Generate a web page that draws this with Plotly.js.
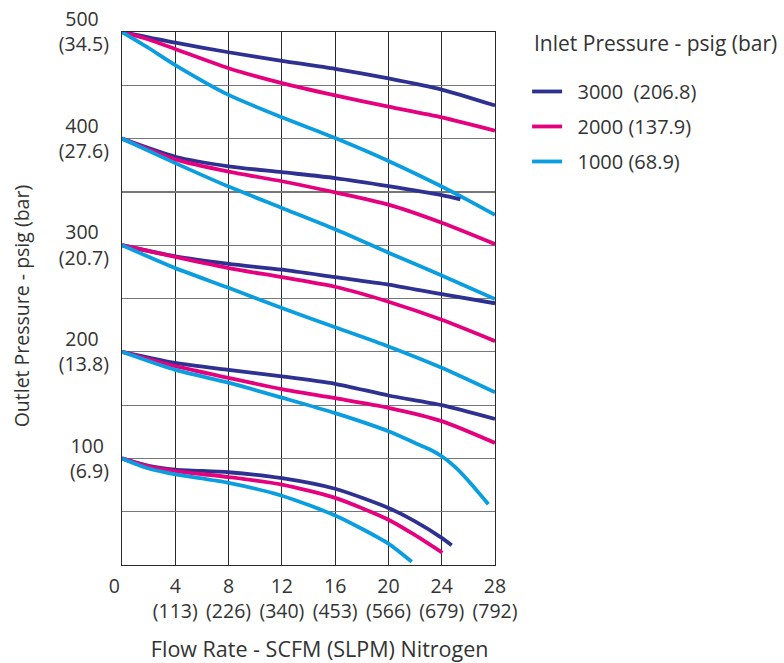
<!DOCTYPE html>
<html>
<head>
<meta charset="utf-8">
<script src="https://cdn.plot.ly/plotly-3.0.1.min.js"></script>
<style>html,body{margin:0;padding:0;background:#fff;}#chart{width:784px;height:663px;}</style>
</head>
<body>
<div id="chart"></div>
<script>
// Inlet pressure series names
var seriesNames = ["3000\u00A0\u00A0(206.8)", "2000 (137.9)", "1000 (68.9)"];
var seriesColors = ["#2e3192", "#e5007d", "#0a9ee0"];

// Outlet set 500 psig
var x500_3000 = [0, 4, 8, 12, 16, 20, 24, 28];
var y500_3000 = [500, 490, 481, 473, 465.5, 456.5, 446, 431];
var x500_2000 = [0, 2, 4, 8, 12, 16, 20, 24, 28];
var y500_2000 = [500, 493, 484, 466, 452, 440.5, 430, 420, 407.5];
var x500_1000 = [0, 2, 4, 8, 12, 16, 20, 24, 26, 28];
var y500_1000 = [500, 485, 469, 441, 420, 400.5, 379, 355, 342, 328.5];

// Outlet set 400 psig
var x400_3000 = [0, 4, 8, 12, 16, 20, 24, 25.4];
var y400_3000 = [400, 383, 374, 368.5, 363, 355.5, 347, 343];
var x400_2000 = [0, 4, 8, 12, 16, 20, 24, 28];
var y400_2000 = [400, 380.5, 369, 360, 349.5, 338, 321, 301];
var x400_1000 = [0, 4, 8, 12, 16, 20, 24, 28];
var y400_1000 = [400, 377, 355, 335, 315, 293, 271.5, 249.5];

// Outlet set 300 psig
var x300_3000 = [0, 4, 8, 12, 16, 20, 24, 28];
var y300_3000 = [300, 289.5, 282.5, 277, 270, 263, 254, 245.5];
var x300_2000 = [0, 4, 8, 12, 16, 20, 24, 28];
var y300_2000 = [300, 289, 278.5, 270, 261, 247, 230, 210];
var x300_1000 = [0, 4, 8, 12, 16, 20, 24, 28];
var y300_1000 = [300, 278.5, 260, 241, 223, 205, 185, 162];

// Outlet set 200 psig
var x200_3000 = [0, 4, 8, 12, 16, 20, 24, 28];
var y200_3000 = [200, 189.5, 183, 177, 170, 159, 150, 137];
var x200_2000 = [0, 4, 8, 12, 16, 20, 24, 28];
var y200_2000 = [200, 186.5, 175.5, 165, 156.5, 147.5, 135, 114.5];
var x200_1000 = [0, 4, 8, 12, 16, 20, 22, 23, 24, 25, 26, 27.5];
var y200_1000 = [200, 183, 171, 157, 142.5, 125.5, 114.5, 109, 102, 92, 79, 57];

// Outlet set 100 psig
var x100_3000 = [0, 2, 4, 8, 12, 16, 20, 22, 24, 24.75];
var y100_3000 = [100, 93, 89.5, 87, 81.5, 71.5, 53.5, 41, 25.5, 18.5];
var x100_2000 = [0, 2, 4, 8, 12, 16, 20, 22, 24.05];
var y100_2000 = [100, 92.5, 88, 82.5, 75.5, 63, 42.5, 28, 11.5];
var x100_1000 = [0, 2, 4, 8, 12, 16, 18, 20, 21.75];
var y100_1000 = [100, 90.5, 85, 77, 65, 46.5, 34, 20, 3];

// Tick labels
var xTickVals = [0, 4, 8, 12, 16, 20, 24, 28];
var xTickText = ["0\u00A0\u00A0\u00A0", "4<br>(113)", "8<br>(226)", "12<br>(340)", "16<br>(453)", "20<br>(566)", "24<br>(679)", "28<br>(792)"];
var yTickVals = [0, 50, 100, 150, 200, 250, 300, 350, 400, 450, 500];
var yTickText = ["", "", "100\u00A0<br>(6.9)", "", "200\u00A0\u00A0<br>(13.8)", "", "300\u00A0\u00A0<br>(20.7)", "", "400\u00A0\u00A0<br>(27.6)", "", "500\u00A0\u00A0<br>(34.5)"];

var curves = [
  [x500_3000, y500_3000, 0], [x500_2000, y500_2000, 1], [x500_1000, y500_1000, 2],
  [x400_3000, y400_3000, 0], [x400_2000, y400_2000, 1], [x400_1000, y400_1000, 2],
  [x300_3000, y300_3000, 0], [x300_2000, y300_2000, 1], [x300_1000, y300_1000, 2],
  [x200_3000, y200_3000, 0], [x200_2000, y200_2000, 1], [x200_1000, y200_1000, 2],
  [x100_3000, y100_3000, 0], [x100_2000, y100_2000, 1], [x100_1000, y100_1000, 2]
];

var shown = [false, false, false];
var traces = curves.map(function (c) {
  var s = c[2];
  var t = {
    x: c[0], y: c[1], type: "scatter", mode: "lines",
    line: {color: seriesColors[s], width: 3.8, shape: "spline", smoothing: 0.7},
    name: "\u00A0\u00A0" + seriesNames[s],
    legendgroup: "g" + s,
    showlegend: !shown[s],
    hoverinfo: "skip"
  };
  shown[s] = true;
  return t;
});

var font = "Open Sans, Noto Sans, sans-serif";
var layout = {
  width: 784, height: 663,
  margin: {l: 122, r: 289, t: 32, b: 98, pad: 0},
  paper_bgcolor: "#fff", plot_bgcolor: "#fff",
  font: {family: font, size: 20, color: "#333"},
  showlegend: true,
  legend: {
    x: 1.086, xanchor: "left", y: 0.925, yanchor: "top",
    font: {family: font, size: 20, color: "#333"},
    tracegroupgap: 6, itemwidth: 30, bgcolor: "rgba(0,0,0,0)"
  },
  xaxis: {
    range: [0, 28], tickvals: xTickVals, ticktext: xTickText,
    showgrid: true, gridcolor: "#2a2a2a", gridwidth: 1.2,
    showline: true, linecolor: "#2a2a2a", linewidth: 1.2, mirror: true,
    zeroline: false, ticks: "", ticklabelstandoff: 3,
    tickfont: {family: font, size: 19.5, color: "#333"},
    title: {text: "\u200B\u00A0\u00A0\u00A0\u00A0Flow Rate - SCFM (SLPM) Nitrogen", font: {family: font, size: 21.5, color: "#333"}, standoff: 28}
  },
  yaxis: {
    range: [0, 500], tickvals: yTickVals, ticktext: yTickText,
    showgrid: true, gridcolor: "#777", gridwidth: 1.2,
    showline: true, linecolor: "#2a2a2a", linewidth: 1.2, mirror: true,
    zeroline: false, ticks: "", ticklabelstandoff: 8,
    tickfont: {family: font, size: 19.5, color: "#333"},
    title: {text: "Outlet Pressure - psig (bar)\u00A0\u00A0\u00A0\u200B", font: {family: font, size: 19.5, color: "#333"}, standoff: 24}
  },
  annotations: [{
    text: "Inlet Pressure - psig (bar)", xref: "paper", yref: "paper",
    x: 1.1, y: 0.98, xanchor: "left", yanchor: "middle", showarrow: false,
    font: {family: font, size: 21, color: "#333"}
  }]
};

Plotly.newPlot("chart", traces, layout, {displayModeBar: false, staticPlot: true});
</script>
</body>
</html>
